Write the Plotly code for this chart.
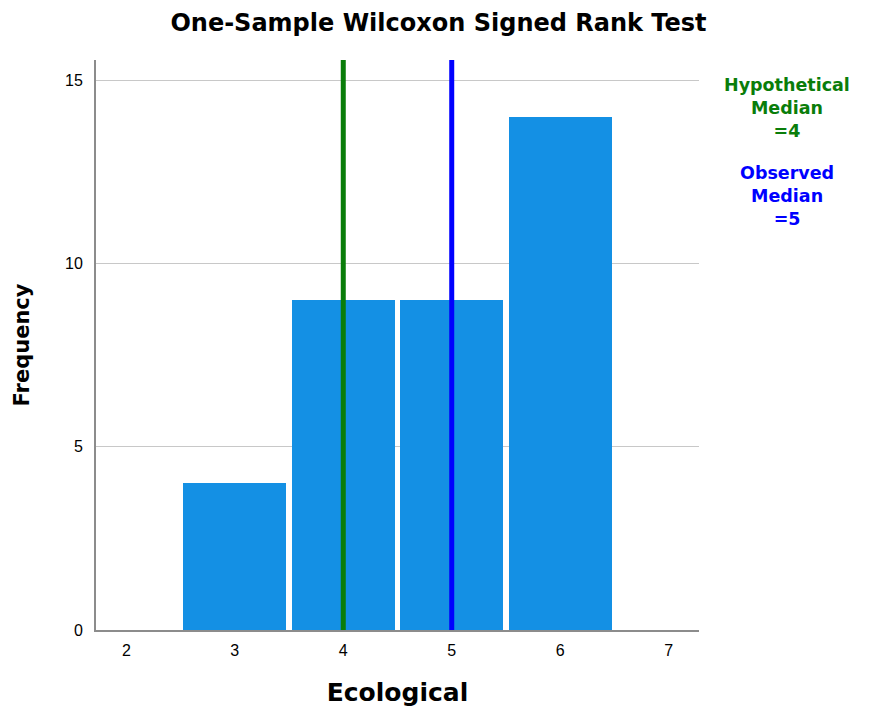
import plotly.graph_objects as go

categories = [3, 4, 5, 6]
frequencies = [4, 9, 9, 14]
hypothetical_median = 4
observed_median = 5
x_ticks = [2, 3, 4, 5, 6, 7]
y_ticks = [0, 5, 10, 15]

FONT = "Liberation Sans, Arial, sans-serif"
BOLD = "DejaVu Sans, Verdana, sans-serif"

fig = go.Figure()
fig.add_trace(go.Bar(
    x=categories, y=frequencies, width=0.95,
    marker=dict(color="#1490E4", line=dict(width=0)),
    showlegend=False, hoverinfo="x+y",
))

fig.add_shape(type="line", xref="x", yref="paper",
              x0=hypothetical_median, x1=hypothetical_median, y0=0, y1=1,
              line=dict(color="#0A7D0A", width=5), layer="above")
fig.add_shape(type="line", xref="x", yref="paper",
              x0=observed_median, x1=observed_median, y0=0, y1=1,
              line=dict(color="#0000FF", width=5), layer="above")

fig.add_annotation(xref="paper", yref="paper", x=1.1466, y=0.978,
                   text=f"<b>Hypothetical<br>Median<br>={hypothetical_median}</b>",
                   showarrow=False, xanchor="center", yanchor="top",
                   font=dict(family=BOLD, size=17.5, color="#0A7D0A"))
fig.add_annotation(xref="paper", yref="paper", x=1.1466, y=0.823,
                   text=f"<b>Observed<br>Median<br>={observed_median}</b>",
                   showarrow=False, xanchor="center", yanchor="top",
                   font=dict(family=BOLD, size=17.5, color="#0000FF"))

fig.update_layout(
    width=861, height=706,
    margin=dict(l=84, r=170, t=52, b=84),
    paper_bgcolor="white", plot_bgcolor="white",
    font=dict(family=FONT, color="#000000"),
    title=dict(text="<b>One-Sample Wilcoxon Signed Rank Test</b>",
               x=0.5, xanchor="center", y=0.979, yanchor="middle",
               font=dict(family=BOLD, size=24, color="#000000")),
    bargap=0,
)
fig.update_xaxes(
    range=[1.72, 7.28], tickvals=x_ticks, ticktext=[str(v) for v in x_ticks],
    showgrid=False, zeroline=False, showline=True, linecolor="#8C8C8C", linewidth=2,
    ticks="", ticklabelstandoff=5, tickfont=dict(family=FONT, size=16, color="#000000"),
    title=dict(text="<b>Ecological</b>", font=dict(family=BOLD, size=25, color="#000000"), standoff=25),
)
fig.update_yaxes(
    range=[0, 15.55], tickvals=y_ticks, ticktext=[str(v) for v in y_ticks],
    showgrid=True, gridcolor="#C8C8C8", gridwidth=1, zeroline=False,
    showline=True, linecolor="#8C8C8C", linewidth=2,
    ticks="", ticklabelstandoff=8, tickfont=dict(family=FONT, size=16, color="#000000"),
    title=dict(text="<b>Frequency</b>", font=dict(family=BOLD, size=21, color="#000000"), standoff=30),
)

fig.write_html("out.html")
